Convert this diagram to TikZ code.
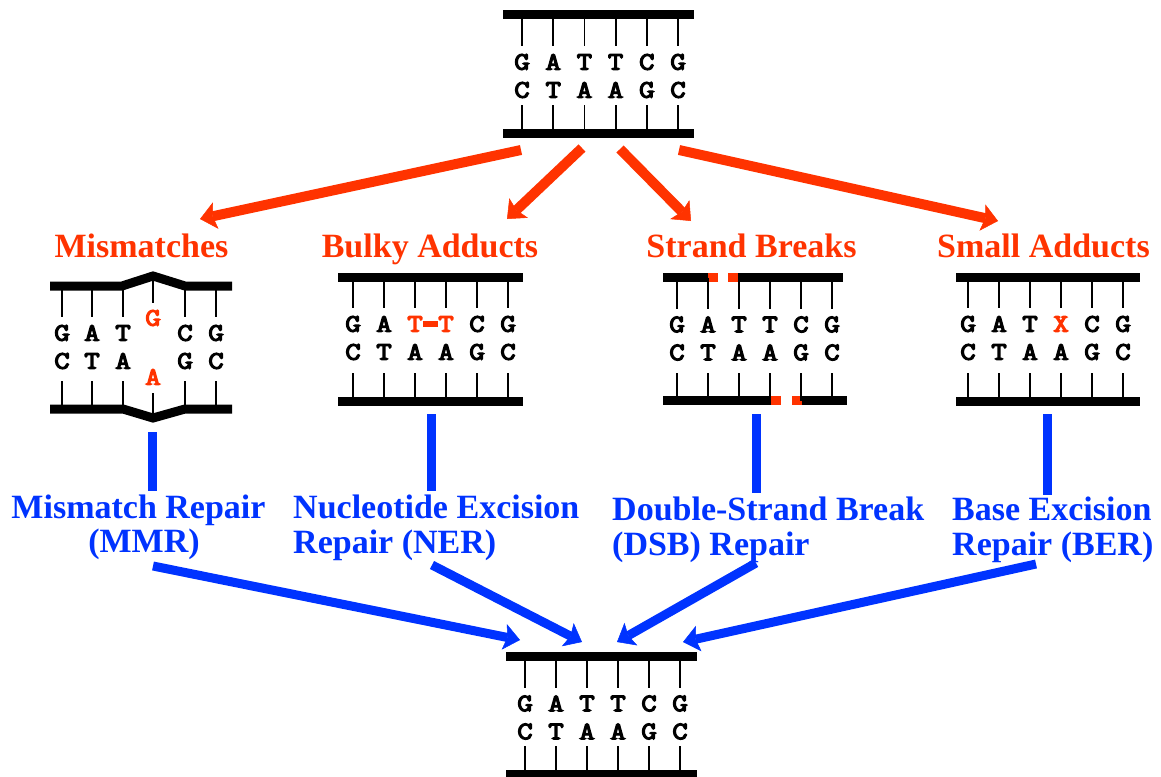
\documentclass[tikz,border=0pt]{standalone}
\usepackage{fontspec}
\setmainfont{Liberation Serif}
\newfontfamily\basefont{Latin Modern Mono}[FakeBold=5, FakeStretch=1.2]
\usetikzlibrary{arrows.meta}

\definecolor{damage}{RGB}{255,51,0}
\definecolor{repair}{RGB}{0,51,255}

\tikzset{
  backbone/.style={line width=9pt, line cap=butt},
  rung/.style={line width=1.8pt},
  nt/.style={font=\basefont\fontsize{25}{25}\selectfont, inner sep=0pt},
  ntbad/.style={nt, text=damage},
  dmglabel/.style={text=damage, font=\bfseries\fontsize{34}{34}\selectfont, inner sep=0pt, anchor=base},
  replabel/.style={text=repair, font=\bfseries\fontsize{34}{34}\selectfont, inner sep=0pt},
  dmgarrow/.style={draw=damage, line width=10pt,
    -{Stealth[length=16pt, width=27pt, inset=3pt, line width=0.5pt]}},
  reparrow/.style={draw=repair, line width=9pt,
    -{Stealth[length=16pt, width=26pt, inset=3pt, line width=0.5pt]}},
  repline/.style={draw=repair, line width=9pt},
  breakmark/.style={fill=damage},
}

% two backbones with six rungs: name, left, right, first rung x, step, top y, bottom y
\newcommand{\ladder}[7]{%
  \draw[backbone] (#2,#6) -- (#3,#6);
  \draw[backbone] (#2,#7) -- (#3,#7);
  \foreach \k in {0,...,5}{
    \draw[rung] (#4+#5*\k,#6) -- ++(0,31);
    \draw[rung] (#4+#5*\k,#7) -- ++(0,-28);
  }}
% six rungs only: first x, step, top y, bottom y
\newcommand{\rungsonly}[4]{%
  \foreach \k in {0,...,5}{
    \draw[rung] (#1+#2*\k,#3) -- ++(0,31);
    \draw[rung] (#1+#2*\k,#4) -- ++(0,-28);
  }}
% two rows of bases: name, first x, step, top y, upper row, lower row
\newcommand{\pairs}[6]{%
  \foreach \nuc [count=\k from 0] in {#5}
    \node[nt] (#1-u\k) at (#2+#3*\k,#4+47) {\nuc};
  \foreach \nuc [count=\k from 0] in {#6}
    \node[nt] (#1-l\k) at (#2+#3*\k,#4+75) {\nuc};}

\begin{document}
\begin{tikzpicture}[x=1pt, y=-1pt]
\useasboundingbox (0,0) rectangle (1161,776);

% ---- intact duplex (top) ----
\ladder{top}{503}{694}{522}{31.2}{15}{133}
\pairs{top}{522}{31.2}{15}{G,A,T,T,C,G}{C,T,A,A,G,C}

% ---- mismatch ----
\draw[backbone, line join=miter] (50,286) -- (122,286) -- (153,276) -- (185,286) -- (232,286);
\draw[backbone, line join=miter] (50,409) -- (123,409) -- (153,418) -- (185,409) -- (232,409);
\foreach \x in {62,92,123,185,216}{
  \draw[rung] (\x,286) -- ++(0,31);
  \draw[rung] (\x,409) -- ++(0,-28);
}
\draw[rung] (153,278) -- (153,303);
\draw[rung] (153,393) -- (153,416);
\node[nt] (mm-u0) at (62,333) {G};
\node[nt] (mm-u1) at (92,333) {A};
\node[nt] (mm-u2) at (123,333) {T};
\node[ntbad] (mm-u3) at (153,318) {G};
\node[nt] (mm-u4) at (185,333) {C};
\node[nt] (mm-u5) at (216,333) {G};
\node[nt] (mm-l0) at (62,361) {C};
\node[nt] (mm-l1) at (92,361) {T};
\node[nt] (mm-l2) at (123,361) {A};
\node[ntbad] (mm-l3) at (153,377) {A};
\node[nt] (mm-l4) at (185,361) {G};
\node[nt] (mm-l5) at (216,361) {C};

% ---- bulky adduct (thymine dimer) ----
\ladder{bulky}{338}{523}{353}{31}{277}{401}
\pairs{bulky}{353}{31}{277}{G,A,{\textcolor{damage}{T}},{\textcolor{damage}{T}},C,G}{C,T,A,A,G,C}
\draw[draw=damage, line width=6pt] (bulky-u2.east) -- (bulky-u3.west);

% ---- strand breaks ----
\draw[backbone] (663,277.5) -- (708,277.5);
\draw[backbone] (738,277.5) -- (843,277.5);
\fill[breakmark] (708,273) rectangle (718,282);
\fill[breakmark] (728,273) rectangle (738,282);
\draw[backbone] (663,400.5) -- (771,400.5);
\draw[backbone] (802,400.5) -- (847,400.5);
\fill[breakmark] (771,396) rectangle (781,405);
\fill[breakmark] (792,396) rectangle (802,405);
\rungsonly{677}{31}{277.5}{400.5}
\pairs{dsb}{677}{31}{277.5}{G,A,T,T,C,G}{C,T,A,A,G,C}

% ---- small adduct ----
\ladder{small}{956}{1140}{968}{31}{277}{401}
\pairs{small}{968}{31}{277}{G,A,T,{\textcolor{damage}{X}},C,G}{C,T,A,A,G,C}

% ---- repaired duplex (bottom) ----
\ladder{fix}{506}{697}{525}{31}{656.5}{774}
\pairs{fix}{525}{31}{656.5}{G,A,T,T,C,G}{C,T,A,A,G,C}

% ---- damage labels ----
\node[dmglabel] (lblmm) at (141.5,257) {Mismatches};
\node[dmglabel] (lblbulky) at (430,257) {Bulky Adducts};
\node[dmglabel] (lbldsb) at (751.5,257) {Strand Breaks};
\node[dmglabel] (lblsmall) at (1043.5,257) {Small Adducts};

% ---- repair pathway labels ----
\node[replabel, anchor=base] (mmr1) at (138.5,518) {Mismatch Repair};
\node[replabel, anchor=base] (mmr2) at (144,552) {(MMR)};
\node[replabel, anchor=base west] (ner1) at (293,518) {Nucleotide Excision};
\node[replabel, anchor=base west] (ner2) at (293,553) {Repair (NER)};
\node[replabel, anchor=base west] (dsbr1) at (612,520) {Double-Strand Break};
\node[replabel, anchor=base west] (dsbr2) at (612,555) {(DSB) Repair};
\node[replabel, anchor=base west] (ber1) at (952,520) {Base Excision};
\node[replabel, anchor=base west] (ber2) at (952,555) {Repair (BER)};

% ---- connector end points ----
\coordinate (dmgout1) at (521,150);
\coordinate (dmgout2) at (582,148);
\coordinate (dmgout3) at (620,149);
\coordinate (dmgout4) at (679,150);
\coordinate (dmgin1) at (200,219);
\coordinate (dmgin2) at (507,219);
\coordinate (dmgin3) at (691,221);
\coordinate (dmgin4) at (998,221);

\coordinate (mmtop) at (152,432);  \coordinate (mmbot) at (152,491);
\coordinate (nertop) at (431,414); \coordinate (nerbot) at (431,491);
\coordinate (dsbtop) at (756,414); \coordinate (dsbbot) at (756,493);
\coordinate (bertop) at (1047,414); \coordinate (berbot) at (1047,495);

\coordinate (repout1) at (153,566);
\coordinate (repout2) at (432,565);
\coordinate (repout3) at (756,563);
\coordinate (repout4) at (1036,564);
\coordinate (repin1) at (520,640);
\coordinate (repin2) at (582,642);
\coordinate (repin3) at (617,642);
\coordinate (repin4) at (683,642);

% ---- damage arrows ----
\foreach \i in {1,...,4}
  \draw[dmgarrow] (dmgout\i) -- (dmgin\i);

% ---- links to repair pathways ----
\draw[repline] (mmtop) -- (mmbot);
\draw[repline] (nertop) -- (nerbot);
\draw[repline] (dsbtop) -- (dsbbot);
\draw[repline] (bertop) -- (berbot);

% ---- repair arrows ----
\foreach \i in {1,...,4}
  \draw[reparrow] (repout\i) -- (repin\i);

\end{tikzpicture}
\end{document}
